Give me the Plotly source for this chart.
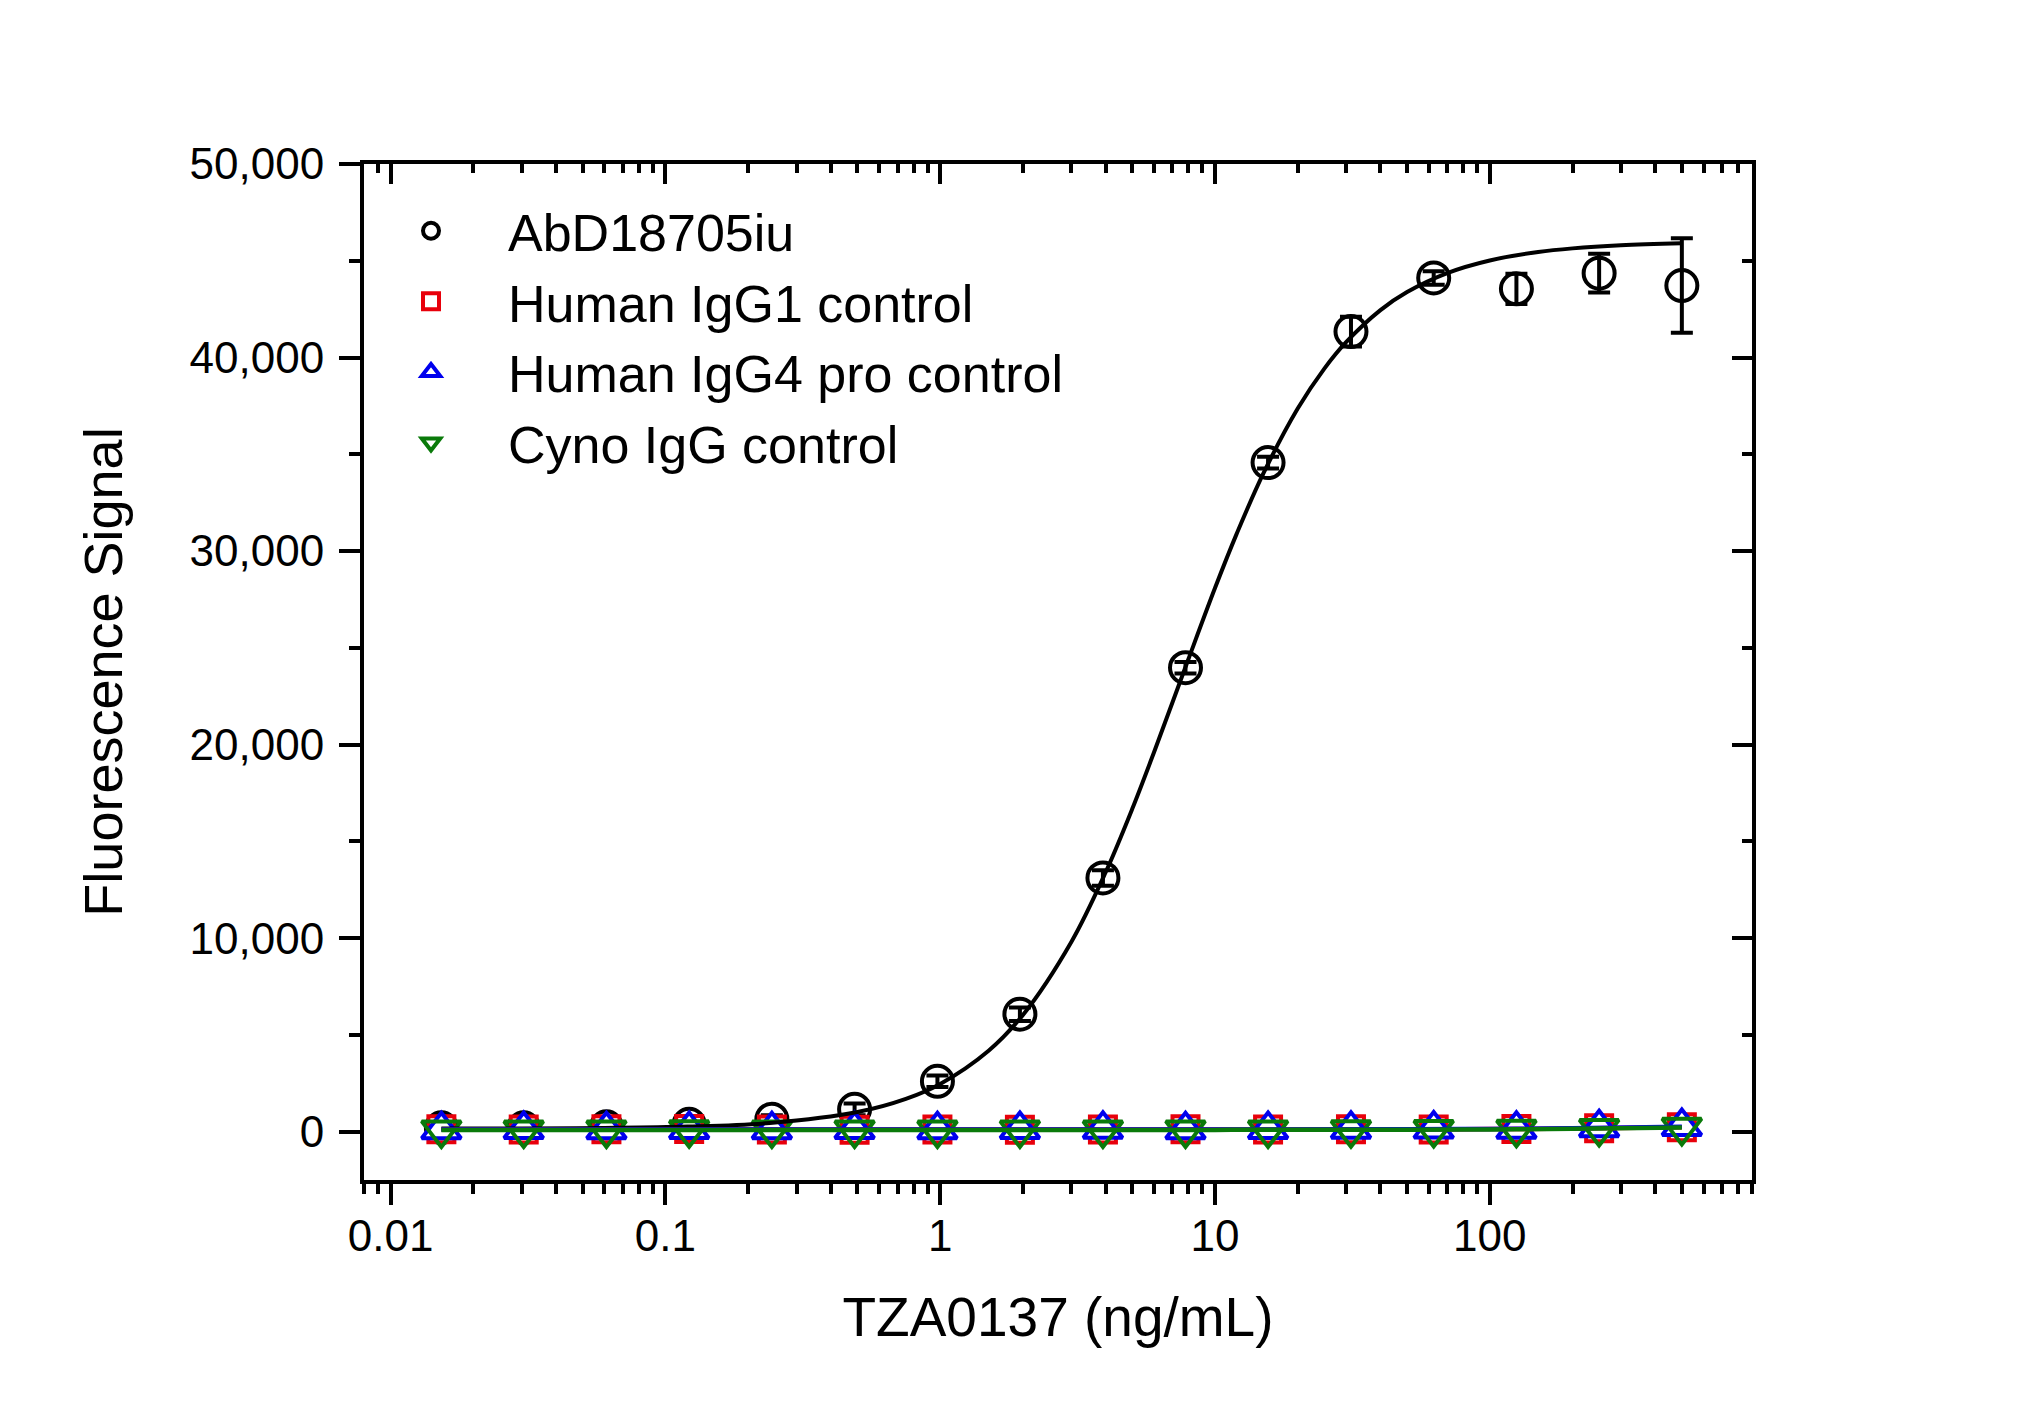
import plotly.graph_objects as go

# ---------------- data ----------------
conc = [0.0153, 0.0305, 0.061, 0.122, 0.244, 0.488, 0.977, 1.95, 3.91, 7.81,
        15.6, 31.25, 62.5, 125, 250, 500]

abd_mean = [200, 200, 250, 380, 640, 1150, 2600, 6070, 13110, 23970,
            34570, 41340, 44110, 43550, 44360, 43720]
abd_err = [150, 150, 150, 200, 200, 300, 300, 350, 400, 300,
           300, 770, 350, 780, 1000, 2440]

igg1_mean = [120, 110, 120, 130, 110, 100, 110, 100, 110, 120, 110, 120, 110, 130, 170, 230]
igg4_mean = [100, 110, 100, 110, 100, 110, 100, 110, 120, 100, 110, 120, 130, 120, 200, 260]
cyno_mean = [90, 80, 90, 100, 80, 90, 80, 90, 80, 90, 90, 100, 110, 120, 160, 220]

# fitted curve for AbD18705iu
fit_x = [0.0153, 0.03, 0.06, 0.12, 0.24, 0.5, 0.75, 1, 1.5, 2, 3, 4, 5, 6, 7, 8,
         10, 12, 15, 20, 25, 30, 40, 50, 70, 100, 150, 200, 300, 500]
fit_abd = [155, 164, 189, 259, 449, 1015, 1695, 2466, 4179, 6028, 9800, 13401,
           16679, 19603, 22172, 24409, 28090, 30901, 34013, 37366, 39429, 40793,
           42451, 43384, 44364, 45017, 45453, 45640, 45800, 45906]

# fitted lines for the controls
ctrl_fit_x = [0.0153, 0.1, 1, 10, 50, 100, 200, 500]
fit_igg1 = [110, 110, 110, 112, 118, 130, 160, 230]
fit_igg4 = [105, 105, 106, 110, 125, 140, 175, 250]
fit_cyno = [85, 85, 86, 90, 100, 115, 150, 215]

names = ["AbD18705iu", "Human IgG1 control", "Human IgG4 pro control", "Cyno IgG control"]

x_title = "TZA0137 (ng/mL)"
y_title = "Fluorescence Signal"

# ---------------- figure ----------------
FONT = "Liberation Sans, Arial, sans-serif"
xr = [-2.09691, 2.95424]   # log10(0.008) .. log10(900)
yr = [-2500, 50000]

fig = go.Figure()

# AbD points with error bars
fig.add_trace(go.Scatter(
    x=conc, y=abd_mean, mode="markers", name=names[0],
    marker=dict(symbol="circle-open", size=31, color="black", line=dict(width=4, color="black")),
    error_y=dict(type="data", array=abd_err, visible=True, color="black", thickness=4, width=11),
))
# controls
fig.add_trace(go.Scatter(
    x=conc, y=igg1_mean, mode="markers", name=names[1],
    marker=dict(symbol="square", size=26, color="white", line=dict(width=4, color="#e8000b")),
))
fig.add_trace(go.Scatter(
    x=conc, y=igg4_mean, mode="markers", name=names[2],
    marker=dict(symbol="triangle-up", size=34, color="white", line=dict(width=4, color="#0000ee")),
))
fig.add_trace(go.Scatter(
    x=conc, y=cyno_mean, mode="markers", name=names[3],
    marker=dict(symbol="triangle-down", size=34, color="rgba(255,255,255,0)", line=dict(width=4, color="#0a7a0a")),
))

# fit lines
fig.add_trace(go.Scatter(x=fit_x, y=fit_abd, mode="lines", line=dict(color="black", width=4, shape="spline"),
                         showlegend=False, hoverinfo="skip"))
fig.add_trace(go.Scatter(x=ctrl_fit_x, y=fit_igg1, mode="lines", line=dict(color="#e8000b", width=4.5, shape="spline"),
                         showlegend=False, hoverinfo="skip"))
fig.add_trace(go.Scatter(x=ctrl_fit_x, y=fit_igg4, mode="lines", line=dict(color="#0000ee", width=4.5, shape="spline"),
                         showlegend=False, hoverinfo="skip"))
fig.add_trace(go.Scatter(x=ctrl_fit_x, y=fit_cyno, mode="lines", line=dict(color="#0a7a0a", width=4.5, shape="spline"),
                         showlegend=False, hoverinfo="skip"))

# helper trace so the mirrored (top/right) axes are drawn
fig.add_trace(go.Scatter(x=[1], y=[0], xaxis="x2", yaxis="y2", mode="markers",
                         marker=dict(opacity=0, size=1), showlegend=False, hoverinfo="skip"))

axis_common = dict(showline=True, linecolor="black", linewidth=4, showgrid=False, zeroline=False,
                   tickcolor="black", tickwidth=4, automargin=False)

fig.update_layout(
    width=2034, height=1417,
    margin=dict(l=364, r=282, t=164, b=237, pad=0),
    paper_bgcolor="white", plot_bgcolor="white",
    template="none",
    font=dict(family=FONT, color="black", size=44),
    showlegend=True,
    legend=dict(x=-0.0072, y=0.974, xanchor="left", yanchor="top",
                font=dict(family=FONT, size=52, color="black"),
                bgcolor="rgba(0,0,0,0)", borderwidth=0, itemwidth=144,
                tracegroupgap=0),
    xaxis=dict(type="log", range=xr, ticks="outside", ticklen=21, tickmode="linear", tick0=0, dtick=1,
               tickfont=dict(size=44, family=FONT), ticklabelstandoff=-7,
               minor=dict(ticks="outside", ticklen=10, tickwidth=4, tickcolor="black", dtick="D1", showgrid=False),
               title=dict(text=x_title, font=dict(size=55, family=FONT), standoff=40),
               **axis_common),
    yaxis=dict(range=yr, ticks="outside", ticklen=21, tickmode="linear", tick0=0, dtick=10000,
               tickformat=",d", tickfont=dict(size=44, family=FONT), ticklabelstandoff=6,
               minor=dict(ticks="outside", ticklen=11, tickwidth=4, tickcolor="black", dtick=5000, showgrid=False),
               title=dict(text=y_title, font=dict(size=54, family=FONT), standoff=51),
               **axis_common),
    xaxis2=dict(type="log", range=xr, overlaying="x", side="top", anchor="y2", ticks="inside", ticklen=20,
                tickmode="linear", tick0=0, dtick=1, showticklabels=False,
                minor=dict(ticks="inside", ticklen=9, tickwidth=4, tickcolor="black", dtick="D1", showgrid=False),
                **axis_common),
    yaxis2=dict(range=yr, overlaying="y", side="right", anchor="x2", ticks="inside", ticklen=20,
                tickmode="linear", tick0=0, dtick=10000, showticklabels=False,
                minor=dict(ticks="inside", ticklen=10, tickwidth=4, tickcolor="black", dtick=5000, showgrid=False),
                **axis_common),
)

fig.write_html("out.html")
